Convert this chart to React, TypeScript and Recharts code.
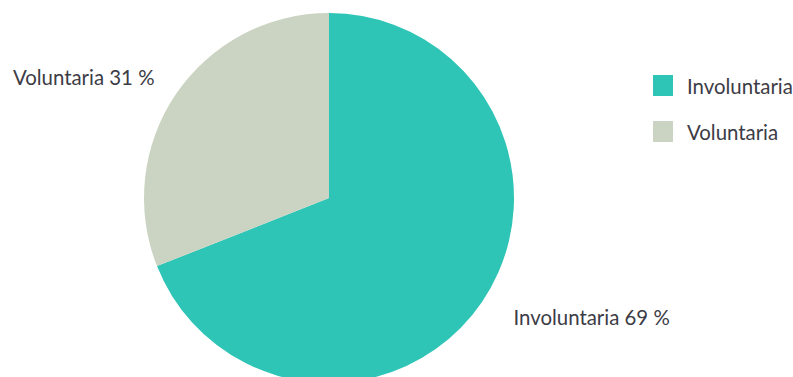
import React from 'react';
import { PieChart, Pie, Cell, Legend } from 'recharts';

const categories = ['Involuntaria', 'Voluntaria'];
const shares = [69, 31];
const colors = ['#2ec4b6', '#cbd4c2'];

const data = categories.map((name, i) => ({ name, value: shares[i] }));

const TEXT = '#3c3c46';
const FONT = 'Lato, sans-serif';
const RAD = Math.PI / 180;

function renderLabel(props: any) {
  const { cx, cy, midAngle, outerRadius, name, value } = props;
  const r = outerRadius + 32;
  const cos = Math.cos(-midAngle * RAD);
  const x = cx + r * cos + 5;
  const y = cy + r * Math.sin(-midAngle * RAD) + (cos >= 0 ? -3 : 1);
  return (
    <text
      x={x}
      y={y}
      fill={TEXT}
      fontSize={20.4}
      fontFamily={FONT}
      textAnchor={cos >= 0 ? 'start' : 'end'}
      dominantBaseline="central"
    >
      {`${name} ${value} %`}
    </text>
  );
}

function LegendContent() {
  return (
    <div style={{ fontFamily: FONT, fontSize: 20.4, color: TEXT }}>
      {categories.map((c, i) => (
        <div key={c} style={{ display: 'flex', alignItems: 'center', height: 21, marginBottom: i === 0 ? 25 : 0 }}>
          <span style={{ display: 'inline-block', width: 20, height: 21, background: colors[i], marginRight: 14 }} />
          <span>{c}</span>
        </div>
      ))}
    </div>
  );
}

export default function App() {
  return (
    <div style={{ position: 'absolute', left: 0, top: 0, width: 793, height: 377, background: '#fff' }}>
      <PieChart width={793} height={377} margin={{ top: 0, right: 0, bottom: 0, left: 0 }}>
        <Pie
          data={data}
          dataKey="value"
          nameKey="name"
          cx={329}
          cy={198}
          outerRadius={185}
          startAngle={90}
          endAngle={-270}
          stroke="none"
          label={renderLabel}
          labelLine={false}
          isAnimationActive={false}
        >
          {data.map((d, i) => (
            <Cell key={d.name} fill={colors[i]} />
          ))}
        </Pie>
        <Legend
          content={<LegendContent />}
          layout="vertical"
          wrapperStyle={{ left: 653, top: 75, width: 140, position: 'absolute' }}
        />
      </PieChart>
    </div>
  );
}
